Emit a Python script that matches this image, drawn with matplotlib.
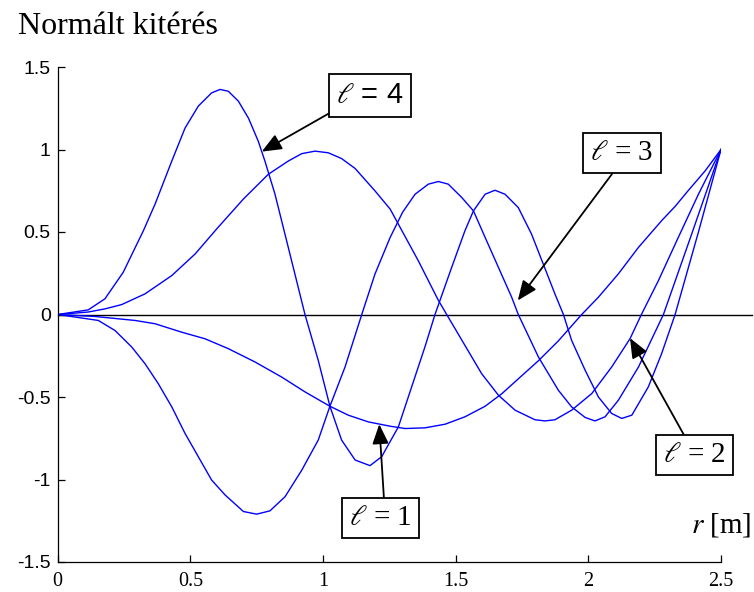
import matplotlib
matplotlib.use("Agg")
import matplotlib.pyplot as plt

plt.rcParams['mathtext.fontset'] = 'stix'

# ---- data ----
r1 = [0, 0.141, 0.291, 0.367, 0.467, 0.555, 0.643, 0.744, 0.844, 0.932, 1.026, 1.095,
      1.171, 1.253, 1.309, 1.384, 1.460, 1.535, 1.611, 1.674, 1.736, 1.812, 1.887,
      1.975, 2.038, 2.113, 2.189, 2.277, 2.327, 2.377, 2.440, 2.5]
y1 = [0, -0.012, -0.036, -0.056, -0.107, -0.147, -0.207, -0.288, -0.379, -0.469, -0.556,
      -0.610, -0.651, -0.677, -0.691, -0.687, -0.665, -0.620, -0.556, -0.480, -0.390,
      -0.280, -0.160, 0.0, 0.105, 0.246, 0.407, 0.570, 0.655, 0.752, 0.870, 1.0]

r2 = [0, 0.115, 0.178, 0.241, 0.329, 0.430, 0.518, 0.600, 0.700, 0.794, 0.869, 0.920,
      0.970, 1.020, 1.070, 1.121, 1.196, 1.253, 1.359, 1.435, 1.472, 1.598, 1.661,
      1.724, 1.799, 1.837, 1.874, 1.937, 2.013, 2.088, 2.157, 2.200, 2.264, 2.339,
      2.415, 2.5]
y2 = [0, 0.015, 0.034, 0.060, 0.125, 0.236, 0.367, 0.520, 0.700, 0.850, 0.930, 0.975,
      0.990, 0.980, 0.945, 0.885, 0.749, 0.639, 0.326, 0.085, -0.016, -0.359, -0.489,
      -0.580, -0.638, -0.645, -0.638, -0.580, -0.479, -0.318, -0.147, 0.0, 0.205,
      0.467, 0.729, 1.0]

r3 = [0, 0.153, 0.216, 0.279, 0.329, 0.379, 0.430, 0.480, 0.530, 0.580, 0.631, 0.700,
      0.750, 0.800, 0.857, 0.920, 0.982, 1.026, 1.083, 1.146, 1.196, 1.253, 1.300,
      1.347, 1.397, 1.435, 1.472, 1.523, 1.567, 1.611, 1.661, 1.711, 1.736, 1.812,
      1.887, 1.937, 1.988, 2.025, 2.063, 2.113, 2.189, 2.283, 2.390, 2.5]
y3 = [0, -0.036, -0.097, -0.197, -0.298, -0.419, -0.560, -0.721, -0.862, -1.003, -1.094,
      -1.194, -1.210, -1.190, -1.104, -0.943, -0.761, -0.556, -0.318, 0.0, 0.246, 0.467,
      0.620, 0.729, 0.790, 0.806, 0.790, 0.709, 0.628, 0.467, 0.286, 0.105, 0.0, -0.258,
      -0.459, -0.560, -0.624, -0.645, -0.620, -0.520, -0.318, 0.0, 0.490, 1.0]

r4 = [0, 0.115, 0.178, 0.247, 0.323, 0.367, 0.430, 0.480, 0.530, 0.580, 0.612, 0.643,
      0.681, 0.719, 0.756, 0.781, 0.819, 0.869, 0.932, 0.982, 1.026, 1.070, 1.121,
      1.177, 1.221, 1.284, 1.334, 1.384, 1.422, 1.485, 1.535, 1.567, 1.611, 1.648,
      1.686, 1.736, 1.786, 1.830, 1.874, 1.906, 1.937, 1.988, 2.038, 2.088, 2.126,
      2.164, 2.226, 2.276, 2.327, 2.415, 2.5]
y4 = [0, 0.028, 0.095, 0.256, 0.508, 0.669, 0.930, 1.130, 1.263, 1.343, 1.364, 1.353,
      1.293, 1.190, 1.050, 0.930, 0.729, 0.407, 0.0, -0.278, -0.556, -0.761, -0.882,
      -0.916, -0.862, -0.681, -0.439, -0.197, 0.0, 0.286, 0.508, 0.628, 0.729, 0.753,
      0.729, 0.648, 0.487, 0.306, 0.125, 0.0, -0.157, -0.338, -0.500, -0.600, -0.630,
      -0.610, -0.439, -0.238, 0.0, 0.500, 1.0]

labels = [r'$\ell$ = 1', r'$\ell$ = 2', r'$\ell$ = 3', r'$\ell$ = 4']
arrow_tips = [(1.212, -0.665), (2.157, -0.143), (1.734, 0.085), (0.769, 0.987)]
box_centers = [(1.217, -1.233), (2.399, -0.852), (2.126, 0.979), (1.177, 1.329)]
arrow_relpos = [(0.56, 1.0), (0.40, 1.0), (0.44, 0.0), (0.0, 0.0)]
label_fonts = ['Liberation Serif', 'Liberation Serif', 'Liberation Serif', 'Liberation Sans']

xticks = [0, 0.5, 1, 1.5, 2, 2.5]
xticklabels = ['0', '0.5', '1', '1.5', '2', '2.5']
yticks = [-1.5, -1, -0.5, 0, 0.5, 1, 1.5]
yticklabels = ['-1.5', '-1', '-0.5', '0', '0.5', '1', '1.5']

# ---- figure ----
fig = plt.figure(figsize=(7.54, 5.92), dpi=100)
ax = fig.add_axes([57.7 / 754, 1 - 562 / 592, 663.3 / 754, 495 / 592])

ax.axhline(0, xmin=0, xmax=1.047, color='black', lw=1.0, clip_on=False, zorder=1)
for rr, yy in [(r1, y1), (r2, y2), (r3, y3), (r4, y4)]:
    ax.plot(rr, yy, color='#0000ff', lw=1.0, zorder=2)

ax.set_xlim(0, 2.5)
ax.set_ylim(-1.5, 1.5)
for s in ['top', 'right']:
    ax.spines[s].set_visible(False)
for s in ['left', 'bottom']:
    ax.spines[s].set_linewidth(0.9)

ax.set_xticks(xticks)
ax.set_xticklabels(xticklabels, fontfamily='Liberation Serif', fontsize=14.5)
ax.set_yticks(yticks)
ax.set_yticklabels(yticklabels, fontfamily='Liberation Sans', fontsize=14)
ax.tick_params(direction='in', length=5, width=0.9)
ax.tick_params(axis='x', pad=7)
ax.tick_params(axis='y', pad=5)

for lab, tip, ctr, rp, fnt in zip(labels, arrow_tips, box_centers, arrow_relpos, label_fonts):
    ax.annotate(lab, xy=tip, xytext=ctr, textcoords='data', ha='center', va='center',
                fontsize=21, fontfamily=fnt,
                bbox=dict(boxstyle='square,pad=0.25', fc='white', ec='black', lw=1.3),
                arrowprops=dict(arrowstyle='-|>,head_length=0.6,head_width=0.25',
                                mutation_scale=20, color='black', lw=1.3,
                                shrinkA=0, shrinkB=0, relpos=rp),
                zorder=5, annotation_clip=False)

ax.text(2.5, -1.275, r'$r$ [m]', ha='center', va='center', fontsize=21,
        fontfamily='Liberation Serif')
fig.text(18 / 754, 1 - 34 / 592, 'Normált kitérés', ha='left', va='baseline',
         fontsize=23, fontfamily='Liberation Serif')

fig.savefig('out.png', dpi=100)
